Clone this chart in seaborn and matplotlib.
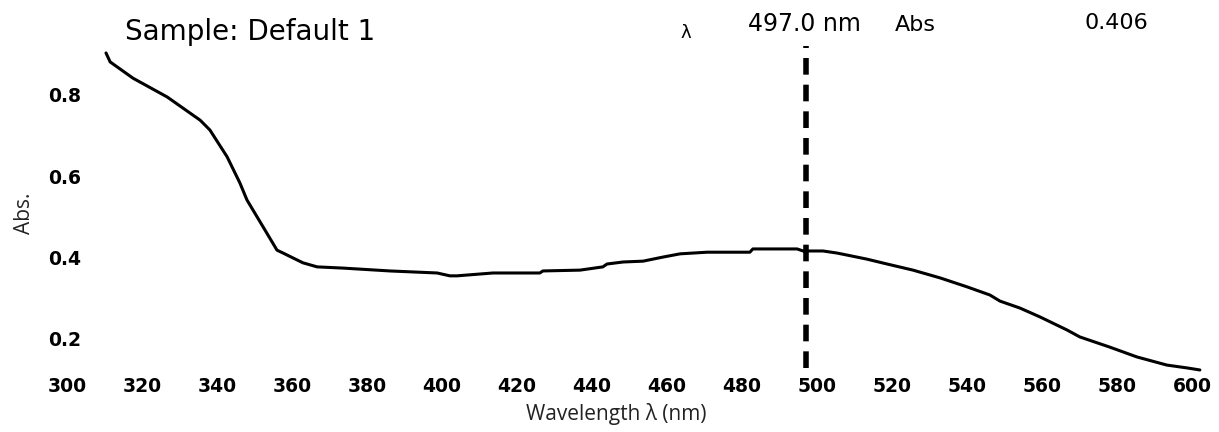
import matplotlib
matplotlib.use("Agg")
import matplotlib.pyplot as plt
import seaborn as sns
import pandas as pd

# ---- data ----
wavelength_nm = [310.4, 311.5, 317.6, 326.7, 335.5, 338.1, 342.7, 346.1, 348.0, 352.3,
                 356.0, 357.6, 362.9, 366.7, 373.6, 386.1, 398.7, 402.1, 404.0, 413.6,
                 426.1, 426.9, 436.8, 442.9, 444.0, 448.3, 453.6, 458.9, 463.5, 470.7,
                 482.1, 482.9, 494.7, 496.3, 501.6, 505.3, 508.0, 513.3, 518.7, 525.6,
                 532.8, 540.0, 546.1, 548.8, 554.1, 559.5, 566.7, 570.1, 578.1, 585.3,
                 593.3, 598.7, 602.1]
absorbance = [0.902, 0.880, 0.840, 0.794, 0.737, 0.713, 0.647, 0.583, 0.541, 0.475,
              0.418, 0.411, 0.387, 0.377, 0.374, 0.367, 0.362, 0.355, 0.355, 0.362,
              0.362, 0.367, 0.369, 0.377, 0.384, 0.389, 0.391, 0.401, 0.409, 0.413,
              0.413, 0.421, 0.421, 0.416, 0.416, 0.411, 0.406, 0.396, 0.384, 0.369,
              0.350, 0.328, 0.308, 0.293, 0.276, 0.254, 0.222, 0.205, 0.180, 0.156,
              0.136, 0.129, 0.124]
x_ticks = [300, 320, 340, 360, 380, 400, 420, 440, 460, 480, 500, 520, 540, 560, 580, 600]
y_ticks = [0.2, 0.4, 0.6, 0.8]
y_tick_labels = ["0.2", "0.4", "0.6", "0.8"]
cursor_nm = 497.0
cursor_abs = 0.406
sample_name = "Sample: Default 1"

df = pd.DataFrame({"Wavelength": wavelength_nm, "Abs": absorbance})

sns.set_theme(style="white")
plt.rcParams["font.family"] = ["DejaVu Sans"]

W, H = 1219, 432
fig = plt.figure(figsize=(W / 100, H / 100), dpi=100)
ax = fig.add_axes([67 / W, 1 - 371.6 / H, 1136.25 / W, 326 / H])

sns.lineplot(data=df, x="Wavelength", y="Abs", color="black", linewidth=2.2,
             estimator=None, ax=ax, clip_on=False)

# cursor line
ax.axvline(cursor_nm, ymin=0.01, ymax=1.0, color="black", linewidth=4,
           linestyle=(0, (3, 1.8)))

ax.set_xlim(300, 603)
ax.set_ylim(0.12, 0.92)
ax.set_xticks(x_ticks)
ax.set_xticklabels([str(t) for t in x_ticks])
ax.set_yticks(y_ticks)
ax.set_yticklabels(y_tick_labels)
ax.tick_params(axis="both", length=0, labelsize=13.5, labelcolor="black")
ax.tick_params(axis="x", pad=4)
ax.tick_params(axis="y", pad=-10)
for lab in ax.get_xticklabels() + ax.get_yticklabels():
    lab.set_fontweight("bold")

sns.despine(ax=ax, left=True, bottom=True, top=True, right=True)
ax.grid(False)

ax.set_xlabel("Wavelength λ (nm)", family=["Open Sans", "DejaVu Sans"], fontsize=15,
              color="#222222")
ax.set_ylabel("Abs.", family=["Open Sans", "DejaVu Sans"], fontsize=15, color="#222222")
ax.xaxis.set_label_coords(0.483, -0.095)
ax.yaxis.label.set_verticalalignment("center")
ax.yaxis.set_label_coords(-0.037, 0.4865)

# header texts
fig.text(125 / W, 1 - 32 / H, sample_name, fontsize=20, va="center", ha="left",
         color="black")
fig.text(680 / W, 1 - 33 / H, "λ", fontsize=13, va="center", ha="left", color="black")
fig.text(748 / W, 1 - 24 / H, f"{cursor_nm:.1f} nm", fontsize=17, va="center",
         ha="left", color="black")
fig.text(895 / W, 1 - 25 / H, "Abs", fontsize=16, va="center", ha="left", color="black")
fig.text(1085 / W, 1 - 23 / H, f"{cursor_abs:.3f}", fontsize=16, va="center",
         ha="left", color="black")

fig.savefig("out.png", dpi=100, facecolor="white")
